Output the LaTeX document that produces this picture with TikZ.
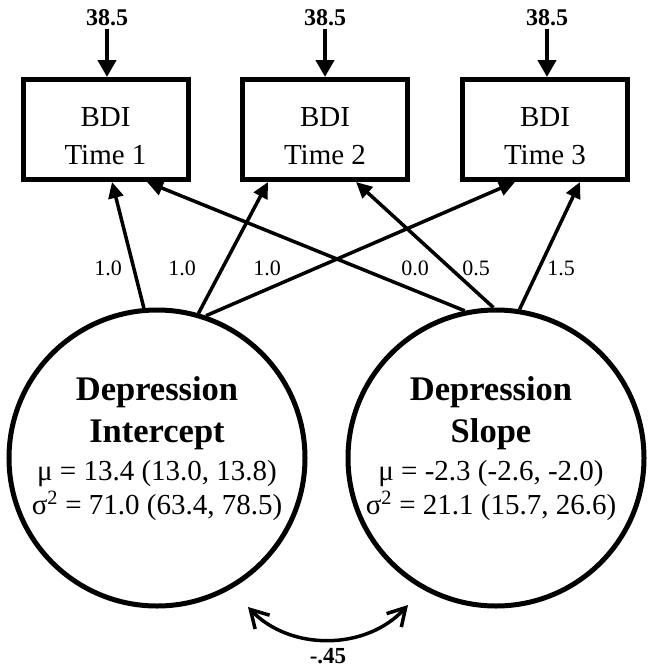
\documentclass[tikz,border=0pt]{standalone}
\usepackage{fontspec}
\setmainfont{Liberation Serif}
\usetikzlibrary{arrows.meta}
\begin{document}
\begin{tikzpicture}[x=1pt,y=-1pt,
  box/.style={draw, line width=5pt, minimum width=165pt, minimum height=100pt, inner sep=0pt},
  lat/.style={draw, circle, line width=5pt, minimum size=296pt, inner sep=0pt},
  txt/.style={anchor=base, inner sep=0pt, font=\fontsize{29}{35}\selectfont},
  btxt/.style={anchor=base, inner sep=0pt, font=\fontsize{34.5}{40}\selectfont\bfseries},
  lab/.style={anchor=base, inner sep=0pt, font=\fontsize{22}{26}\selectfont},
  meanlab/.style={anchor=base, inner sep=0pt, font=\fontsize{24}{28}\selectfont\bfseries},
  toparr/.style={line width=4.5pt, -{Triangle[length=17pt,width=18pt]}},
  load/.style={line width=3.5pt, -{Triangle[length=16pt,width=15pt]}},
  cov/.style={line width=3.5pt, {Straight Barb[angle=60:20pt]}-{Straight Barb[angle=60:20pt]}},
]
\useasboundingbox (0,0) rectangle (653,672);

% observed variables
\node[box] (t1) at (105.5,129.5) {};
\node[box] (t2) at (325,129.5) {};
\node[box] (t3) at (545,129.5) {};
\node[txt] (t1a) at (105.5,126) {BDI};
\node[txt] (t1b) at (105.5,164) {Time 1};
\node[txt] (t2a) at (325,126) {BDI};
\node[txt] (t2b) at (325,164) {Time 2};
\node[txt] (t3a) at (545,126) {BDI};
\node[txt] (t3b) at (545,164) {Time 3};

% intercept means
\node[meanlab] (m1) at (107,25) {38.5};
\node[meanlab] (m2) at (325,25) {38.5};
\node[meanlab] (m3) at (547,25) {38.5};
\draw[toparr] ([yshift=-3pt]m1.south) -- (m1.south |- t1.north);
\draw[toparr] ([yshift=-3pt]m2.south) -- (m2.south |- t2.north);
\draw[toparr] ([yshift=-3pt]m3.south) -- (m3.south |- t3.north);

% latent variables
\node[lat] (i) at (157,458) {};
\node[lat] (s) at (496,458) {};
\node[btxt] (i1) at (157,400) {Depression};
\node[btxt] (i2) at (157,442) {Intercept};
\node[txt] (i3) at (157,480) {μ = 13.4 (13.0, 13.8)};
\node[txt] (i4) at (157,514) {σ\textsuperscript{2} = 71.0 (63.4, 78.5)};
\node[btxt] (s1) at (491,400) {Depression};
\node[btxt] (s2) at (491,442) {Slope};
\node[txt] (s3) at (491,480) {μ = -2.3 (-2.6, -2.0)};
\node[txt] (s4) at (491,514) {σ\textsuperscript{2} = 21.1 (15.7, 26.6)};

% loadings
\draw[load] (i.95.3) -- ([xshift=6.5pt]t1.south);
\draw[load] (i.74.5) -- ([xshift=-57pt]t2.south);
\draw[load] (i.71.4) -- ([xshift=-30pt]t3.south);
\draw[load] (s.102.6) -- ([xshift=41.5pt]t1.south);
\draw[load] (s.91) -- ([xshift=31pt]t2.south);
\draw[load] (s.81) -- ([xshift=35pt]t3.south);

\node[lab] (l1) at (108,275) {1.0};
\node[lab] (l2) at (182,275) {1.0};
\node[lab] (l3) at (267,275) {1.0};
\node[lab] (l4) at (415,275) {0.0};
\node[lab] (l5) at (476,275) {0.5};
\node[lab] (l6) at (561,275) {1.5};

% covariance
\coordinate (c1) at (248,607);
\coordinate (c2) at (408,605);
\draw[cov] (c1) .. controls (290,651) and (366,651) .. (c2);
\node[meanlab, font=\fontsize{23}{27}\selectfont\bfseries] (cv) at (328,663) {-.45};
\end{tikzpicture}
\end{document}
